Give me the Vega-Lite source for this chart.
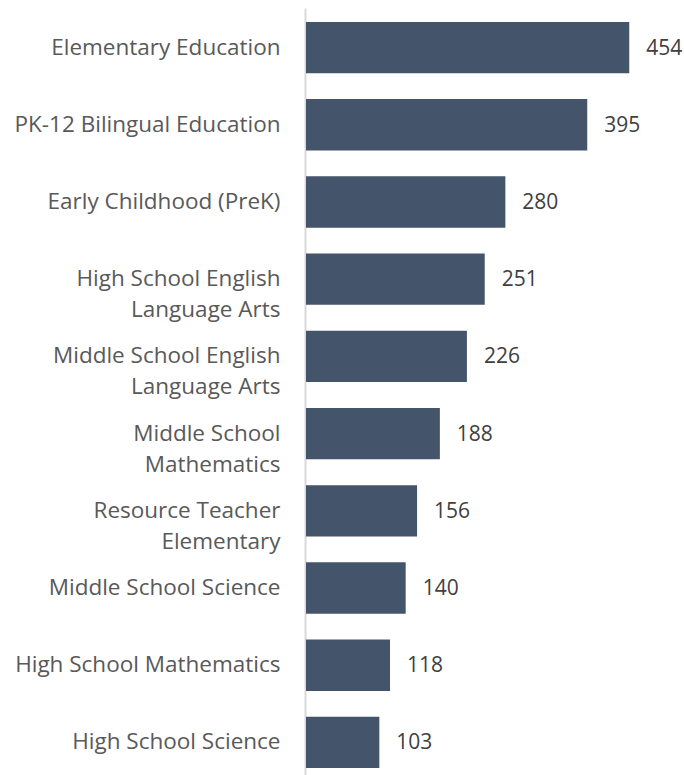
{
  "$schema": "https://vega.github.io/schema/vega-lite/v6.json",
  "autosize": "none",
  "padding": {"left": 306, "top": 8, "right": 22, "bottom": 0},
  "width": 356,
  "height": 774,
  "background": "white",
  "data": {
    "values": [
      {"subject": "Elementary Education", "count": 454},
      {"subject": "PK-12 Bilingual Education", "count": 395},
      {"subject": "Early Childhood (PreK)", "count": 280},
      {"subject": "High School English\nLanguage Arts", "count": 251},
      {"subject": "Middle School English\nLanguage Arts", "count": 226},
      {"subject": "Middle School\nMathematics", "count": 188},
      {"subject": "Resource Teacher\nElementary", "count": 156},
      {"subject": "Middle School Science", "count": 140},
      {"subject": "High School Mathematics", "count": 118},
      {"subject": "High School Science", "count": 103}
    ]
  },
  "encoding": {
    "y": {
      "field": "subject",
      "type": "nominal",
      "sort": "-x",
      "scale": {"paddingInner": 0.335, "paddingOuter": 0.18},
      "axis": {
        "title": null,
        "ticks": false,
        "offset": 1,
        "domainColor": "#d9d9d9",
        "domainWidth": 2,
        "labelFont": "Open Sans",
        "labelFontSize": 22.5,
        "labelColor": "#595959",
        "labelPadding": 25,
        "labelLineHeight": 31,
        "labelLimit": 400,
        "labelExpr": "split(datum.label, '\\n')"
      }
    },
    "x": {
      "field": "count",
      "type": "quantitative",
      "scale": {"domain": [0, 500]},
      "axis": null
    }
  },
  "layer": [
    {"mark": {"type": "bar", "color": "#44546a"}},
    {
      "mark": {
        "type": "text",
        "align": "left",
        "baseline": "middle",
        "dx": 17,
        "dy": 1,
        "font": "Open Sans",
        "fontSize": 21,
        "color": "#404040"
      },
      "encoding": {"text": {"field": "count", "type": "quantitative"}}
    }
  ],
  "config": {"view": {"stroke": null}}
}
